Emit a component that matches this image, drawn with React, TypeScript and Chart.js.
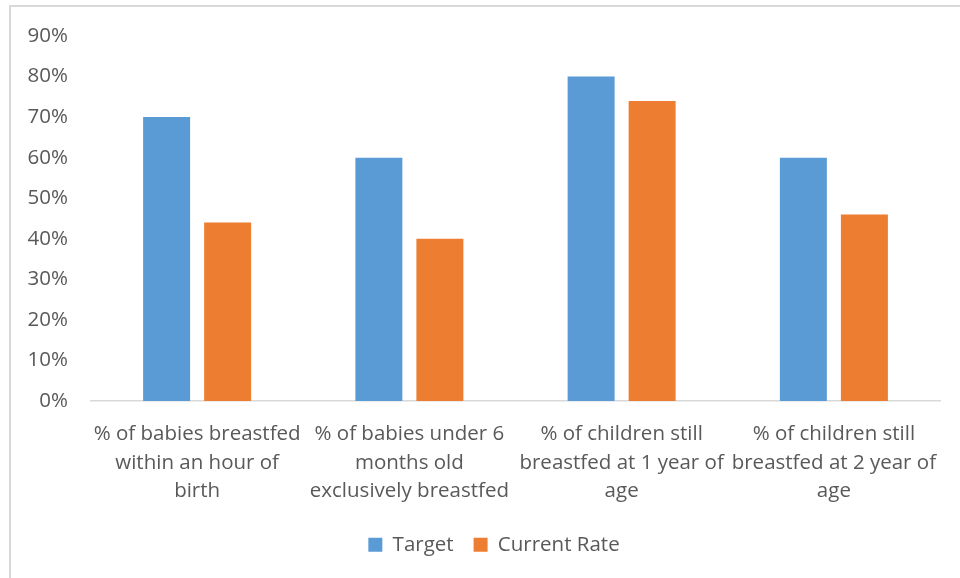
import React, { useEffect, useRef } from "react";
import { Chart, registerables } from "chart.js";

Chart.register(...registerables);

const categories: string[][] = [
  ["% of babies breastfed", "within an hour of", "birth"],
  ["% of babies under 6", "months old", "exclusively breastfed"],
  ["% of children still", "breastfed at 1 year of", "age"],
  ["% of children still", "breastfed at 2 year of", "age"],
];
const targetValues = [70, 60, 80, 60];
const currentValues = [44, 40, 74, 46];
const seriesNames = ["Target", "Current Rate"];

const FONT = "'Open Sans', 'Noto Sans', sans-serif";
const TEXT = "#595959";

const legendShift = {
  id: "legendShift",
  afterLayout(chart: any) {
    const lg = chart.legend;
    if (lg) {
      lg.left += 24;
      lg.right += 24;
    }
  },
};

export default function App() {
  const ref = useRef<HTMLCanvasElement | null>(null);

  useEffect(() => {
    if (!ref.current) return;
    const chart = new Chart(ref.current, {
      type: "bar",
      data: {
        labels: categories,
        datasets: [
          {
            label: seriesNames[0],
            data: targetValues,
            backgroundColor: "#5B9BD5",
            categoryPercentage: 0.575,
            barPercentage: 0.77,
          },
          {
            label: seriesNames[1],
            data: currentValues,
            backgroundColor: "#ED7D31",
            categoryPercentage: 0.575,
            barPercentage: 0.77,
          },
        ],
      },
      plugins: [legendShift],
      options: {
        responsive: false,
        animation: false,
        layout: { padding: { top: 36, right: 20, left: 0, bottom: 13 } },
        plugins: {
          tooltip: { enabled: false },
          legend: {
            position: "bottom",
            labels: {
              boxWidth: 14,
              boxHeight: 14,
              padding: 20,
              color: TEXT,
              font: { family: FONT, size: 20.5 },
            },
          },
        },
        scales: {
          x: {
            grid: { display: false, drawTicks: false },
            border: { display: true, color: "#D9D9D9", width: 1.5 },
            ticks: {
              color: TEXT,
              font: { family: FONT, size: 20.5, lineHeight: 1.39 },
              padding: 19,
              maxRotation: 0,
              minRotation: 0,
              autoSkip: false,
            },
            afterFit: (scale: any) => {
              scale.height = 113.5;
            },
          },
          y: {
            min: 0,
            max: 90,
            grid: { display: false, drawTicks: false },
            border: { display: false },
            ticks: {
              stepSize: 10,
              color: TEXT,
              padding: 23,
              font: { family: FONT, size: 20.5 },
              callback: (v: any) => v + "%",
            },
            afterFit: (scale: any) => {
              scale.width = 91;
            },
          },
        },
      },
    });
    return () => chart.destroy();
  }, []);

  return (
    <div
      style={{
        position: "fixed",
        left: 0,
        top: 0,
        width: 960,
        height: 578,
        overflow: "hidden",
        background: "#fff",
      }}
    >
      <div
        style={{
          position: "absolute",
          left: 9,
          top: 5,
          width: 2000,
          height: 2000,
          borderLeft: "2px solid #D9D9D9",
          borderTop: "2px solid #D9D9D9",
        }}
      />
      <canvas
        ref={ref}
        width={960}
        height={578}
        style={{ position: "absolute", left: 0, top: 0, width: 960, height: 578 }}
      />
    </div>
  );
}
